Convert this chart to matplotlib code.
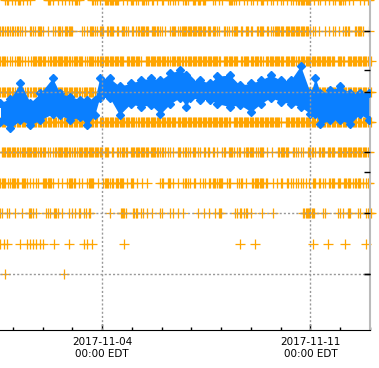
import numpy as np
import matplotlib
matplotlib.use("Agg")
import matplotlib.pyplot as plt
import matplotlib.dates as mdates

# hours since 2017-10-31 13:00, single hours or (first, last) runs of hourly readings
base = np.datetime64("2017-10-31T13:00")

orange_rows = {
    10: [(5, 6), 7, 10, 13, (15, 17), 19, 22, 25, (39, 41), 43, 47, 51, 53, 56, 59, (61, 64),
         (75, 77), 79, 81, (85, 96), 100, 103, (106, 108), 110, 112, (115, 118), 120, (123, 124),
         127, (131, 132), 136, 138, 140, 142, 144, 148, (150, 152), (156, 158), (160, 162),
         (164, 166), 172, 174, 177, 180, (185, 189), 191, 193, 197, 200, 203, 205, 208, (211, 213),
         216, 219, 221, 224, 227, 229, 232, 235, 237, 239, (241, 251), 254, 257, 259, 263, 266,
         269, 271, (274, 277), 279, 282, 285, 291, 294, (297, 298)],
    9: [(1, 3), 5, (6, 7), (9, 11), 13, (14, 15), (17, 18), 21, (25, 27), 29, (31, 35), 39, 43, 45,
        (47, 49), 51, (53, 59), (67, 68), 71, (73, 77), 79, (81, 84), (87, 92), (95, 96), (99, 102),
        104, (107, 108), 110, (112, 120), (123, 128), (130, 131), 134, (138, 142), 144, (146, 166),
        (168, 170), (172, 174), (176, 177), (181, 182), (184, 185), (188, 192), (195, 196),
        (199, 201), (203, 204), (208, 213), (216, 217), 219, (221, 229), (231, 249), 251, 253, 255,
        258, 263, 266, 269, 271, 274, 277, (279, 282), (287, 293), 298],
    8: [(1, 5), 6, 9, 10, (13, 18), 21, 23, (26, 37), 39, (41, 57), (59, 67), 69, (71, 77),
        (79, 100), (103, 114), (118, 130), (131, 136), (138, 148), (150, 157), (158, 178),
        (181, 184), (185, 192), (195, 201), (203, 211), 213, 215, (216, 219), (220, 229),
        (231, 239), (241, 258), (259, 270), (273, 278), (281, 297), 300],
    7: [(1, 6), (7, 11), (13, 19), (21, 23), 25, (26, 41), (43, 47), (48, 59), (60, 65), (67, 71),
        (72, 77), (81, 243), (245, 300)],
    6: [(1, 47), (49, 79), (81, 110), (112, 142), (144, 186), (189, 227), (231, 300)],
    5: [(2, 5), 6, (7, 15), 17, (18, 31), (33, 37), 39, 41, 43, (45, 57), (59, 61), (63, 83),
        (85, 88), 91, 92, (95, 97), (99, 103), (106, 120), (122, 128), 130, 131, 132, 134, 136,
        138, 140, (144, 146), 148, (150, 152), 154, 156, 157, 158, 160, 162, (165, 166), 168, 169,
        (172, 173), 176, (180, 182), (185, 189), (192, 194), 197, 199, (200, 205), 207,
        (209, 213), 216, 220, (225, 233), (237, 239), 241, 243, 245, (249, 253), 255, (258, 262),
        (265, 270), (273, 298)],
    4: [(1, 5), 7, (9, 15), (18, 21), 22, 25, 27, (30, 31), (35, 43), 47, 51, (55, 60), 61, 64, 67,
        (71, 76), 80, 84, (85, 88), 89, (91, 92), 94, (95, 100), 103, (106, 108), 111, 115, 119,
        (130, 132), (136, 138), 140, 144, 148, (150, 152), 154, 157, 158, 162, 164, 166, 169, 170,
        (172, 173), 174, (176, 180), (184, 185), 186, (192, 193), 195, 196, 199, (204, 211),
        (212, 213), 215, 216, 221, 224, 227, 228, (232, 233), 235, 237, 239, 241, 243, 245, 247,
        250, (253, 255), 258, 259, 261, 263, (266, 270), (273, 275), 278, (279, 283), 285,
        (287, 291), 293, (296, 298)],
    3: [(1, 2), 6, 8, 13, 18, (24, 27), 30, 38, 39, 41, (44, 47), 51, 56, 59, 61, 64, 65, 68, 70, 72,
        73, 89, (98, 102), (108, 111), 114, 116, 119, 123, (130, 131), 138, 140, 144, 148, 160, 165,
        169, 174, (177, 179), 190, 192, 194, 195, 197, 199, 200, 203, 212, 221, (245, 254), 261,
        263, 273, 275, 277, (281, 283), 289, 291, (296, 300)],
    2: [1, 4, 6, 17, 22, 25, 27, 30, 33, 35, 44, 56, 68, 71, 75, 101, 194, 206, 253, 265, 279, 296],
    1: [5, 52],
}

blue_hours = [1, 9, 17, 25, 33, 43, 49, 57, 65, 71, 77, 81, 89, 97, 106, 114, 122, 130, 138, 146,
              151, 154, 162, 170, 176, 186, 194, 203, 211, 219, 227, 235, 243, 251, 255, 259, 267,
              275, 283, 291, 298]
blue_hi = [16.8, 17.2, 18.7, 16.8, 17.7, 19.2, 17.7, 17.4, 17.1, 17.1, 17.1, 19.2, 19.2, 18.4,
           18.7, 19.0, 19.2, 19.0, 19.7, 20.0, 19.5, 19.0, 19.0, 18.7, 19.4, 19.5, 18.5, 18.7,
           19.0, 19.5, 19.0, 19.0, 20.4, 17.7, 19.2, 17.7, 18.0, 18.4, 17.7, 17.7, 17.7]
blue_lo = [14.9, 14.3, 15.1, 14.6, 15.1, 15.7, 15.6, 15.1, 15.4, 14.6, 15.6, 17.3, 17.3, 15.6,
           16.7, 16.4, 16.6, 15.7, 16.7, 17.3, 16.4, 17.3, 17.1, 17.1, 16.7, 16.4, 16.6, 15.9,
           16.7, 17.3, 16.9, 16.7, 16.4, 15.7, 15.7, 14.7, 15.1, 15.1, 14.7, 15.7, 15.1]

major_ticks = ["2017-11-04", "2017-11-11"]
major_labels = ["2017-11-04\n00:00 EDT", "2017-11-11\n00:00 EDT"]
orange_ticks = [1, 3, 5, 7, 9]
blue_ticks = [0, 10, 20]

ORANGE = "#ffa500"
BLUE = "#0a7fff"


def to_time(hours):
    return base + np.asarray(hours).astype("timedelta64[h]")


fig = plt.figure(figsize=(3.79, 3.68), dpi=100)
ax = fig.add_axes([0, 38 / 368, 370 / 379, 330 / 368])

for level, runs in orange_rows.items():
    hrs = []
    for r in runs:
        if isinstance(r, tuple):
            hrs.extend(range(r[0], r[1] + 1))
        else:
            hrs.append(r)
    ax.plot(to_time(hrs), np.full(len(hrs), level), "+", color=ORANGE,
            ms=6.5, mew=0.9, clip_on=False)

ax.set_ylim(-0.842, 10.013)
ax.set_xlim(to_time(0) + np.timedelta64(36, "m"), np.datetime64("2017-11-13T00:00"))

ax.set_xticks([np.datetime64(d) for d in major_ticks])
ax.set_xticklabels(major_labels, fontsize=7.5)
ax.xaxis.set_minor_locator(mdates.DayLocator())
ax.tick_params(axis="x", which="major", direction="in", length=4.5, width=1, pad=5)
ax.tick_params(axis="x", which="minor", direction="in", length=2.5, width=1)
for s in ["left", "top"]:
    ax.spines[s].set_visible(False)
ax.spines["right"].set_color("#bbbbbb")
ax.spines["right"].set_linewidth(1.5)
ax.spines["bottom"].set_color("black")

# blue series
axb = ax.twinx()
bt = to_time(blue_hours)
axb.fill_between(bt, blue_lo, blue_hi, color=BLUE, lw=0)
axb.plot(bt, blue_hi, "D", color=BLUE, ms=4.5)
axb.plot(bt, blue_lo, "D", color=BLUE, ms=4.5)
axb.set_ylim(-5.49, 26.86)
axb.set_yticks(blue_ticks)
axb.tick_params(axis="y", direction="in", length=4.3, width=1, labelright=False)
for s in axb.spines.values():
    s.set_visible(False)

# grid on top
axg = ax.twinx()
axg.set_ylim(ax.get_ylim())
axg.set_yticks(orange_ticks)
axg.tick_params(axis="y", direction="in", length=4.3, width=1, labelright=False)
axg.xaxis.set_visible(True)
axg.tick_params(axis="x", which="both", bottom=False, top=False, labelbottom=False, labeltop=False)
axg.grid(True, which="major", color="#999999", lw=1, linestyle=(0, (1.5, 1.5)))
for s in axg.spines.values():
    s.set_visible(False)

# twinx moves the first axes' ticks back to the left, switch them off afterwards
ax.set_yticks([])

fig.savefig("out.png", dpi=100)
